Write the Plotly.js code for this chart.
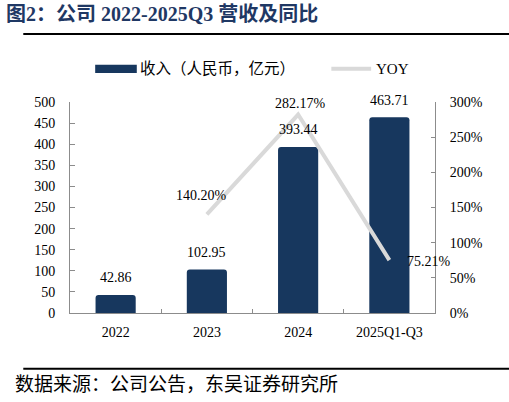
<!DOCTYPE html>
<html>
<head>
<meta charset="utf-8">
<script src="https://cdn.plot.ly/plotly-3.0.1.min.js"></script>
<style>
html,body{margin:0;padding:0;background:#fff;}
#chart{width:509px;height:402px;}
</style>
</head>
<body>
<div id="chart"></div>
<script>
const categories = ["2022", "2023", "2024", "2025Q1-Q3"];
const revenue = [42.86, 102.95, 393.44, 463.71];
const yoyCategories = ["2023", "2024", "2025Q1-Q3"];
const yoy = [1.4020, 2.8217, 0.7521];
const yoyLabels = ["140.20%", "282.17%", "75.21%"];
const revenueName = "收入（人民币，亿元）";
const yoyName = "YOY";
const titleText = "图2：公司 2022-2025Q3 营收及同比";
const sourceText = "数据来源：公司公告，东吴证券研究所";

const serif = "Liberation Serif, Noto Sans CJK SC, serif";
const cjk = "Liberation Serif, Noto Sans CJK SC, sans-serif";
const barColor = "#17375e";
const lineColor = "#d9d9d9";
const axisColor = "#8c8c8c";

const traces = [
  {
    type: "bar",
    name: revenueName,
    x: categories,
    y: revenue,
    marker: {color: barColor, cornerradius: 3},
    width: 0.44,
    hoverinfo: "none",
    showlegend: false
  },
  {
    type: "scatter",
    mode: "lines",
    name: yoyName,
    x: yoyCategories,
    y: yoy,
    yaxis: "y2",
    line: {color: lineColor, width: 4},
    hoverinfo: "none",
    showlegend: false
  }
];

const labelFont = {family: serif, size: 14, color: "#000"};

// annotation x on a category axis: use the category index
const barLabels = categories.map((c, i) => ({
  xref: "x", yref: "y", x: categories.indexOf(c), y: revenue[i],
  text: revenue[i].toFixed(2), showarrow: false,
  xanchor: "center", yanchor: "middle", yshift: 17,
  font: labelFont
}));

const yoyOffsets = [
  {xanchor: "center", xshift: -5, yshift: 19},
  {xanchor: "center", xshift: 2, yshift: 11},
  {xanchor: "left", xshift: 16, yshift: -1}
];
const yoyAnn = yoyCategories.map((c, i) => Object.assign({
  xref: "x", yref: "y2", x: categories.indexOf(c), y: yoy[i],
  text: yoyLabels[i], showarrow: false, yanchor: "middle",
  font: labelFont
}, yoyOffsets[i]));

const layout = {
  width: 509,
  height: 402,
  margin: {l: 70, r: 74, t: 102, b: 89},
  paper_bgcolor: "#fff",
  plot_bgcolor: "#fff",
  font: {family: serif, size: 14, color: "#000"},
  showlegend: false,
  xaxis: {
    type: "category",
    range: [-0.5, 3.5],
    showline: true,
    linecolor: axisColor,
    linewidth: 1,
    ticks: "inside",
    tickson: "boundaries",
    ticklen: 4,
    tickcolor: axisColor,
    ticklabelstandoff: 6,
    showgrid: false,
    zeroline: false,
    tickfont: {family: serif, size: 14, color: "#000"}
  },
  yaxis: {
    range: [0, 500],
    dtick: 50,
    tick0: 0,
    showline: true,
    linecolor: axisColor,
    linewidth: 1,
    ticks: "inside",
    ticklen: 5,
    tickcolor: axisColor,
    ticklabelstandoff: 11,
    showgrid: false,
    zeroline: false,
    tickfont: {family: serif, size: 14, color: "#000"}
  },
  yaxis2: {
    overlaying: "y",
    side: "right",
    range: [0, 3],
    dtick: 0.5,
    tick0: 0,
    tickformat: ".0%",
    showline: true,
    linecolor: axisColor,
    linewidth: 1,
    ticks: "inside",
    ticklen: 4,
    tickcolor: axisColor,
    ticklabelstandoff: 11,
    showgrid: false,
    zeroline: false,
    tickfont: {family: serif, size: 14, color: "#000"}
  },
  shapes: [
    {type: "line", xref: "paper", yref: "paper", x0: -0.128, x1: 1.232, y0: 1.322, y1: 1.322,
     line: {color: "#000", width: 2}},
    {type: "line", xref: "paper", yref: "paper", x0: -0.128, x1: 1.232, y0: -0.264, y1: -0.264,
     line: {color: "#000", width: 2}},
    {type: "rect", xref: "paper", yref: "paper", x0: 0.069, x1: 0.183, y0: 1.138, y1: 1.176,
     fillcolor: barColor, line: {width: 0}},
    {type: "line", xref: "paper", yref: "paper", x0: 0.716, x1: 0.825, y0: 1.157, y1: 1.157,
     line: {color: lineColor, width: 4}}
  ],
  annotations: [
    {xref: "paper", yref: "paper", x: -0.18, y: 1.415, xanchor: "left", yanchor: "middle",
     text: "<b>" + titleText + "</b>", showarrow: false,
     font: {family: cjk, size: 20, color: "#1f3864"}},
    {xref: "paper", yref: "paper", x: 0.186, y: 1.157, xanchor: "left", yanchor: "middle",
     text: revenueName, showarrow: false,
     font: {family: cjk, size: 15.5, color: "#000"}},
    {xref: "paper", yref: "paper", x: 0.833, y: 1.157, xanchor: "left", yanchor: "middle",
     text: yoyName, showarrow: false,
     font: {family: serif, size: 15, color: "#000"}},
    {xref: "paper", yref: "paper", x: -0.155, y: -0.34, xanchor: "left", yanchor: "middle",
     text: sourceText, showarrow: false,
     font: {family: cjk, size: 19, color: "#000"}}
  ].concat(barLabels, yoyAnn)
};

Plotly.newPlot("chart", traces, layout, {displayModeBar: false, staticPlot: true});
</script>
</body>
</html>
